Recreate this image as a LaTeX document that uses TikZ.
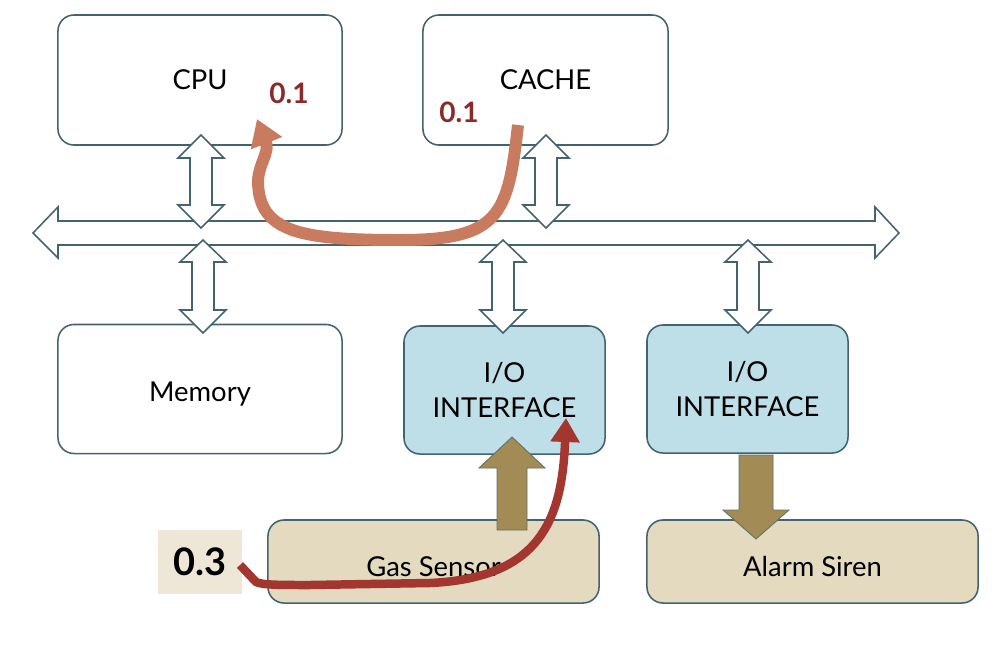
\documentclass[tikz,border=0pt]{standalone}
\usepackage{fontspec}
\setmainfont{Lato}
\usetikzlibrary{arrows.meta}
\definecolor{boxline}{HTML}{43646F}
\definecolor{iofill}{HTML}{BEDFE8}
\definecolor{devfill}{HTML}{E4DAC0}
\definecolor{signalfill}{HTML}{A38B56}
\definecolor{hitline}{HTML}{C87B5F}
\definecolor{missline}{HTML}{A3372F}
\definecolor{costred}{HTML}{8A2A2A}
\definecolor{costfill}{HTML}{EEE7D8}

\begin{document}
\begin{tikzpicture}[line cap=round,line join=round,x=0.025cm,y=-0.025cm,
  unit/.style={draw=boxline,line width=1.1pt,rounded corners=0.4cm,fill=white,align=center,font=\fontsize{19.5}{25}\selectfont},
  iounit/.style={unit,fill=iofill,minimum width=5.025cm,minimum height=3.2cm},
  devunit/.style={unit,fill=devfill,minimum width=8.275cm,minimum height=2.075cm,text height=0.74cm},
  busarrow/.style={draw=boxline,line width=1.1pt,fill=white,line join=miter},
  signal/.style={draw=boxline!70!signalfill,line width=0.6pt,fill=signalfill,line join=miter},
  cost/.style={text=costred,font=\fontsize{20}{24}\selectfont\bfseries}]
\useasboundingbox (0,0) rectangle (998,646);
% boxes
\node[unit,minimum width=7.1cm,minimum height=3.25cm] (cpu) at (200,80) {CPU};
\node[unit,minimum width=6.125cm,minimum height=3.25cm] (cache) at (545.5,80) {CACHE};
\node[unit,minimum width=7.1cm,minimum height=3.225cm,text height=0.72cm] (memory) at (200,389) {Memory};
\node[iounit] (io1) at (504.5,390) {I/O\\INTERFACE};
\node[iounit] (io2) at (747.5,389) {I/O\\INTERFACE};
\node[devunit] (gas) at (433.5,561.5) {Gas Sensor};
\node[devunit] (siren) at (812.5,561.5) {Alarm Siren};
\node[fill=costfill,minimum width=2.1cm,minimum height=1.6cm,font=\fontsize{27}{32}\selectfont\bfseries] (misscost) at (200,562) {0.3};
% bus
\draw [busarrow] (33,233) -- (58,207) -- (58,221) -- (875,221) -- (875,207) -- (899,233) -- (875,258) -- (875,245) -- (58,245) -- (58,258) -- cycle;
\draw [shift={(201,0)},busarrow] (0,135) -- (23,158) -- (11,158) -- (11,205) -- (23,205) -- (0,228) -- (-23,205) -- (-11,205) -- (-11,158) -- (-23,158) -- cycle;
\draw [shift={(546,0)},busarrow] (0,135) -- (23,158) -- (11,158) -- (11,205) -- (23,205) -- (0,228) -- (-23,205) -- (-11,205) -- (-11,158) -- (-23,158) -- cycle;
\draw [shift={(203,0)},busarrow] (0,240) -- (23,262) -- (11,262) -- (11,310) -- (23,310) -- (0,333) -- (-23,310) -- (-11,310) -- (-11,262) -- (-23,262) -- cycle;
\draw [shift={(503,0)},busarrow] (0,240) -- (23,262) -- (11,262) -- (11,310) -- (23,310) -- (0,333) -- (-23,310) -- (-11,310) -- (-11,262) -- (-23,262) -- cycle;
\draw [shift={(748,0)},busarrow] (0,240) -- (23,262) -- (11,262) -- (11,310) -- (23,310) -- (0,333) -- (-23,310) -- (-11,310) -- (-11,262) -- (-23,262) -- cycle;
% device signals
\draw [shift={(512,0)},signal] (0,437) -- (33,468) -- (15,468) -- (15,530) -- (-15,530) -- (-15,468) -- (-33,468) -- cycle;
\draw [shift={(756,0)},signal] (-17,455) -- (17,455) -- (17,510) -- (33,510) -- (0,539) -- (-33,510) -- (-17,510) -- cycle;
% costs
\node[cost] (cpucost) at (289,93) {0.1};
\node[cost] (cachecost) at (459,112) {0.1};
\coordinate (cacheout) at (518,125);
\coordinate (cpuin) at (257,119);
\coordinate (missout) at (240,565);
\coordinate (ioin) at (566,418);
\draw [hitline,line width=12pt*0.71,line cap=butt,-{Triangle[length=0.65cm,width=0.8cm]}] (cacheout) .. controls (508,215) and (500,240) .. (400,240) .. controls (300,240) and (259,232) .. (258,182) .. controls (258,165) and (270,152) .. (cpuin);
\draw [missline,line width=8.5pt*0.71,line cap=butt,-{Triangle[length=0.6cm,width=0.7cm]}] (missout) -- (256,582) .. controls (262,585) and (280,585) .. (310,585) -- (430,583) .. controls (540,578) and (562,520) .. (ioin);
\end{tikzpicture}
\end{document}
